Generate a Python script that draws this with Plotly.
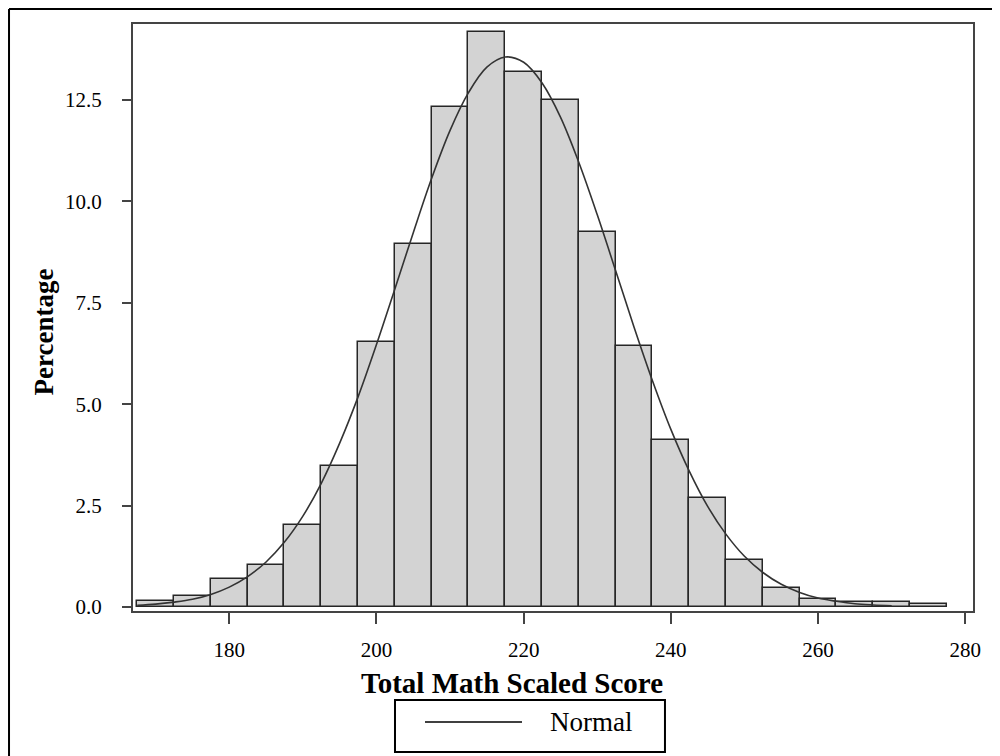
import plotly.graph_objects as go

# histogram bins (midpoints, width 5) and percentage per bin
bin_mid = [170, 175, 180, 185, 190, 195, 200, 205, 210, 215, 220,
           225, 230, 235, 240, 245, 250, 255, 260, 265, 270, 275]
pct = [0.14, 0.27, 0.69, 1.04, 2.02, 3.48, 6.53, 8.95, 12.33, 14.18, 13.19,
       12.50, 9.25, 6.43, 4.12, 2.69, 1.16, 0.46, 0.20, 0.12, 0.12, 0.08]

# fitted normal curve
normal_x = [167.5, 170, 172.5, 175, 177.5, 180, 182.5, 185, 187.5, 190, 192.5,
            195, 197.5, 200, 202.5, 205, 207.5, 210, 212.5, 215, 217.5, 220,
            222.5, 225, 227.5, 230, 232.5, 235, 237.5, 240, 242.5, 245, 247.5,
            250, 252.5, 255, 257.5, 260, 262.5, 265, 267.5, 270]
normal_y = [0.04, 0.07, 0.12, 0.19, 0.31, 0.49, 0.75, 1.11, 1.60, 2.24, 3.05,
            4.04, 5.18, 6.47, 7.84, 9.23, 10.57, 11.75, 12.68, 13.31, 13.56, 13.43,
            12.92, 12.08, 10.96, 9.67, 8.29, 6.90, 5.58, 4.38, 3.35, 2.48, 1.79,
            1.25, 0.85, 0.56, 0.36, 0.22, 0.14, 0.08, 0.05, 0.03]

x_ticks = [180, 200, 220, 240, 260, 280]
y_ticks = [0, 2.5, 5, 7.5, 10, 12.5]
y_ticktext = ["0.0", "2.5", "5.0", "7.5", "10.0", "12.5"]

FONT = "Liberation Serif"

fig = go.Figure()
fig.add_trace(go.Bar(x=bin_mid, y=pct, width=5,
                     marker=dict(color="#d3d3d3", line=dict(color="#262626", width=1.5))))
fig.add_trace(go.Scatter(x=normal_x, y=normal_y, mode="lines", line_shape="spline",
                         line=dict(color="#333333", width=1.6)))

axis_common = dict(showline=True, mirror=True, linecolor="#444444", linewidth=2,
                   showgrid=False, zeroline=False, ticks="outside", tickcolor="#444444",
                   tickwidth=1.5, tickfont=dict(family=FONT, size=21, color="black"))

fig.update_xaxes(range=[166.92, 281.05], tickvals=x_ticks, ticklen=11,
                 ticklabelstandoff=8, **axis_common)
fig.update_yaxes(range=[-0.099, 14.374], tickvals=y_ticks, ticktext=y_ticktext,
                 ticklen=9, ticklabelstandoff=16, **axis_common)

border = dict(color="black", width=2)
shapes = [
    # outer border (right side is broken where the 280 label sits)
    dict(type="line", xref="paper", yref="paper", x0=-0.1476, x1=-0.1476, y0=1.0256, y1=-0.26, line=border),
    dict(type="line", xref="paper", yref="paper", x0=-0.1476, x1=1.0274, y0=1.0256, y1=1.0256, line=border),
    dict(type="line", xref="paper", yref="paper", x0=1.0274, x1=1.0274, y0=1.0256, y1=-0.0273, line=border),
    dict(type="line", xref="paper", yref="paper", x0=1.0274, x1=1.0274, y0=-0.1056, y1=-0.26, line=border),
    # legend box
    dict(type="rect", xref="paper", yref="paper", x0=0.3119, x1=0.6333, y0=-0.1516, y1=-0.2402,
         line=border, fillcolor="white"),
    dict(type="line", xref="paper", yref="paper", x0=0.3476, x1=0.4631, y0=-0.1891, y1=-0.1891,
         line=dict(color="black", width=1.5)),
]

annotations = [
    dict(text="<b>Percentage</b>", xref="paper", yref="paper", x=-0.1071, y=0.4744,
         xanchor="center", yanchor="middle", textangle=-90, showarrow=False,
         font=dict(family=FONT, size=27, color="black")),
    dict(text="<b>Total Math Scaled Score</b>", xref="paper", yref="paper", x=0.4512, y=-0.1227,
         xanchor="center", yanchor="middle", showarrow=False,
         font=dict(family=FONT, size=29, color="black")),
    dict(text="Normal", xref="paper", yref="paper", x=0.5452, y=-0.1891,
         xanchor="center", yanchor="middle", showarrow=False,
         font=dict(family=FONT, size=27, color="black")),
]

fig.update_layout(width=992, height=748, plot_bgcolor="white", paper_bgcolor="white",
                  margin=dict(l=125, r=27, t=16, b=145), bargap=0,
                  shapes=shapes, annotations=annotations, showlegend=False)

fig.write_html("out.html")
